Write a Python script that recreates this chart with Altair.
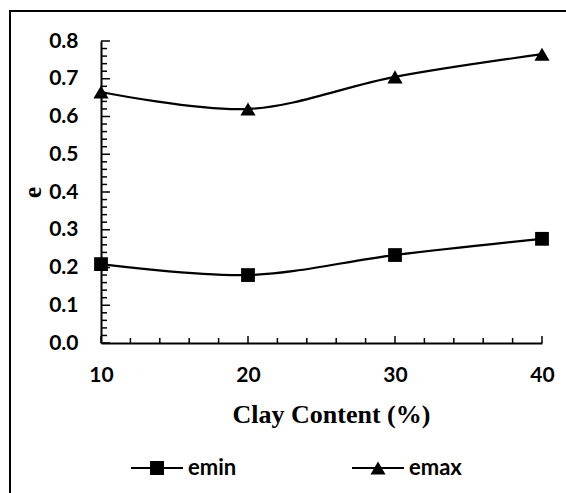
import altair as alt
import pandas as pd

# ---- data ----
clay = [10, 20, 30, 40]
emin = [0.209, 0.180, 0.233, 0.276]
emax = [0.665, 0.620, 0.705, 0.765]
series_names = ["emin", "emax"]
x_labels = [10, 20, 30, 40]
y_labels = [0.0, 0.1, 0.2, 0.3, 0.4, 0.5, 0.6, 0.7, 0.8]
x_minor = [12, 14, 16, 18, 22, 24, 26, 28, 32, 34, 36, 38]
y_minor = [round(i * 0.02, 2) for i in range(41) if i % 5]

df = pd.DataFrame({
    "clay": clay * 2,
    "e": emin + emax,
    "series": ["emin"] * len(clay) + ["emax"] * len(clay),
})

W, H = 441, 302
xs = alt.Scale(domain=[10, 40], nice=False, zero=False)
ys = alt.Scale(domain=[0, 0.8], nice=False)

LABEL_FONT = "Lato"
TITLE_FONT = "Liberation Serif"

xaxis = alt.Axis(
    values=x_labels, format="d", title="Clay Content (%)",
    titleFont=TITLE_FONT, titleFontWeight="bold", titleFontSize=26, titleColor="black",
    titleX=230, titleY=79, titleBaseline="alphabetic", titleAlign="center",
    labelFont=LABEL_FONT, labelFontWeight="bold", labelFontSize=21, labelColor="black",
    labelPadding=21, labelFlush=False, labelOverlap=False,
    ticks=False, tickSize=0, domainColor="black", domainWidth=2, grid=False,
)
yaxis = alt.Axis(
    values=y_labels, format=".1f", title="e",
    titleFont=TITLE_FONT, titleFontWeight="bold", titleFontSize=26, titleColor="black",
    titleAngle=270, titleX=-61, titleY=151, titleAlign="center", titleBaseline="alphabetic",
    labelFont=LABEL_FONT, labelFontWeight="bold", labelFontSize=21, labelColor="black",
    labelPadding=23, labelOverlap=False,
    ticks=False, tickSize=0, domainColor="black", domainWidth=2, grid=False,
)

X = lambda f="clay": alt.X(f"{f}:Q", scale=xs, axis=xaxis)
Y = lambda f="e": alt.Y(f"{f}:Q", scale=ys, axis=yaxis)

# ---- outer frame (top and left edges visible) ----
frame_left = alt.Chart(df).mark_rule(color="black", strokeWidth=2).encode(
    x=alt.value(-91), y=alt.value(-30), y2=alt.value(470))
frame_top = alt.Chart(df).mark_rule(color="black", strokeWidth=2).encode(
    x=alt.value(-92), x2=alt.value(480), y=alt.value(-30))

# ---- inward tick marks ----
xt_major = alt.Chart(pd.DataFrame({"v": x_labels})).mark_rule(color="black", strokeWidth=1.5).encode(
    x=X("v"), y=alt.value(H), y2=alt.value(H - 7))
xt_minor = alt.Chart(pd.DataFrame({"v": x_minor})).mark_rule(color="black", strokeWidth=1.5).encode(
    x=X("v"), y=alt.value(H), y2=alt.value(H - 5))
yt_major = alt.Chart(pd.DataFrame({"v": y_labels})).mark_rule(color="black", strokeWidth=1.5).encode(
    y=Y("v"), x=alt.value(0), x2=alt.value(9))
yt_minor = alt.Chart(pd.DataFrame({"v": y_minor})).mark_rule(color="black", strokeWidth=1.5).encode(
    y=Y("v"), x=alt.value(0), x2=alt.value(6))

# ---- series ----
lines = alt.Chart(df).mark_line(color="black", strokeWidth=2.2, interpolate="catmull-rom").encode(
    x=X(), y=Y(), detail="series:N")

points = alt.Chart(df).mark_point(filled=True, color="black", opacity=1).encode(
    x=X(), y=Y(),
    shape=alt.Shape("series:N", scale=alt.Scale(domain=series_names, range=["square", "triangle-up"]), legend=None),
    size=alt.Size("series:N", scale=alt.Scale(domain=series_names, range=[190, 230]), legend=None),
)

# legend symbols: line stub + marker
sq_path = "M-1,-0.04H1V0.04H-1Z M-0.27,-0.27H0.27V0.27H-0.27Z"
tri_path = "M-1,-0.04H1V0.04H-1Z M0,-0.25L0.29,0.25H-0.29Z"
legend_layer = alt.Chart(df).transform_filter("false").mark_point(filled=True, color="black", opacity=1).encode(
    x=X(), y=Y(),
    shape=alt.Shape(
        "series:N",
        scale=alt.Scale(domain=series_names, range=[sq_path, tri_path]),
        legend=alt.Legend(
            orient="none", legendX=30, legendY=401, direction="horizontal", title=None,
            symbolSize=2704, symbolFillColor="black", symbolStrokeWidth=0, symbolOpacity=1,
            labelFont=LABEL_FONT, labelFontWeight="bold", labelFontSize=22, labelColor="black",
            labelOffset=5, columnPadding=115, padding=0,
        ),
    ),
)

chart = alt.layer(
    frame_left, frame_top, xt_minor, xt_major, yt_minor, yt_major, lines, points, legend_layer
).resolve_scale(shape="independent", size="independent").properties(
    width=W, height=H,
    autosize=alt.AutoSizeParams(type="none"),
    padding={"left": 101, "top": 41, "right": 24, "bottom": 150},
    background="white",
).configure_view(stroke=None)

chart.save("out.html", embed_options={"renderer": "svg", "actions": False})
